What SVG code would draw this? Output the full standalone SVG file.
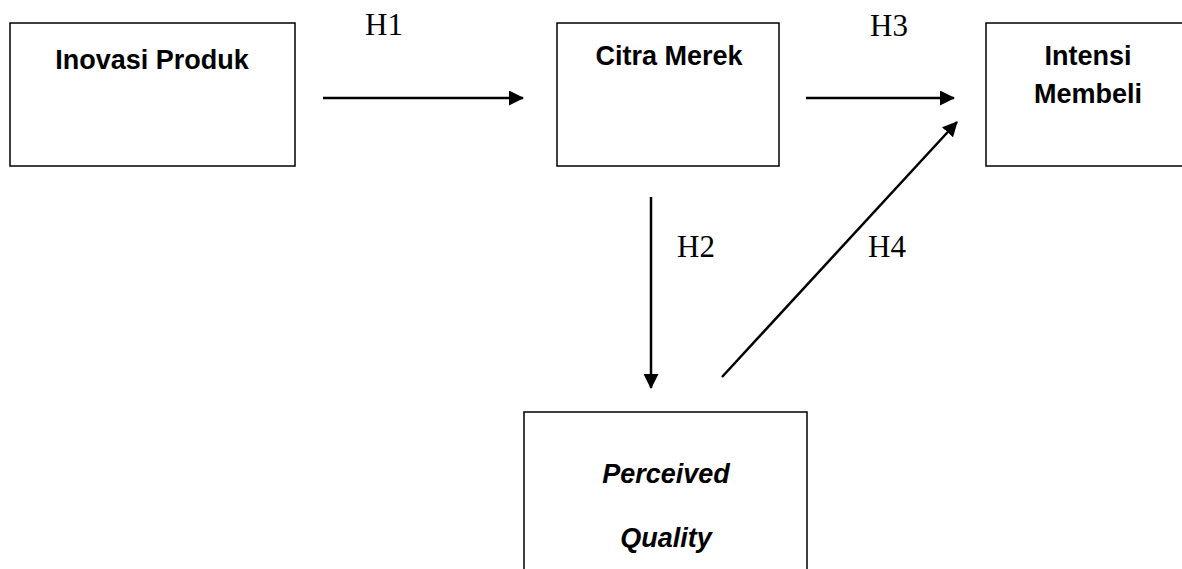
<svg xmlns="http://www.w3.org/2000/svg" width="1182" height="569" viewBox="0 0 1182 569">
<style>
.box{fill:#fff;stroke:#000;stroke-width:1.5}
.lbl{font-family:"Liberation Sans",Arial,sans-serif;font-weight:bold;font-size:27px;fill:#000;text-anchor:middle}
.it{font-style:italic}
.h{font-family:"Liberation Serif","Times New Roman",serif;font-size:31px;fill:#000}
.conn{stroke:#000;stroke-width:2.5;fill:none;marker-end:url(#ah)}
</style>
<defs>
<marker id="ah" markerWidth="6" markerHeight="6" refX="5.6" refY="3" orient="auto" markerUnits="strokeWidth" viewBox="0 0 6 6">
<path d="M0,0 L6,3 L0,6 Z" fill="#000"/>
</marker>
</defs>
<rect width="1182" height="569" fill="#fff"/>
<g id="node-inovasi">
<rect class="box" x="10" y="23" width="285" height="143"/>
<text class="lbl" x="152" y="69">Inovasi Produk</text>
</g>
<g id="node-citra">
<rect class="box" x="557" y="23" width="222" height="143"/>
<text class="lbl" x="669" y="65">Citra Merek</text>
</g>
<g id="node-intensi">
<rect class="box" x="986" y="23" width="210" height="143"/>
<text class="lbl" x="1088" y="65">Intensi</text>
<text class="lbl" x="1088" y="103">Membeli</text>
</g>
<g id="node-perceived">
<rect class="box" x="524" y="412" width="283" height="170"/>
<text class="lbl it" x="666" y="483">Perceived</text>
<text class="lbl it" x="666" y="547">Quality</text>
</g>
<g id="connectors">
<line class="conn" x1="323" y1="98" x2="523" y2="98"/>
<line class="conn" x1="806" y1="98" x2="954" y2="98"/>
<line class="conn" x1="651" y1="197" x2="651" y2="388"/>
<line class="conn" x1="722" y1="377" x2="957" y2="122"/>
</g>
<g id="labels">
<text class="h" x="365" y="35">H1</text>
<text class="h" x="870" y="36">H3</text>
<text class="h" x="677" y="257">H2</text>
<text class="h" x="868" y="257">H4</text>
</g>
</svg>
